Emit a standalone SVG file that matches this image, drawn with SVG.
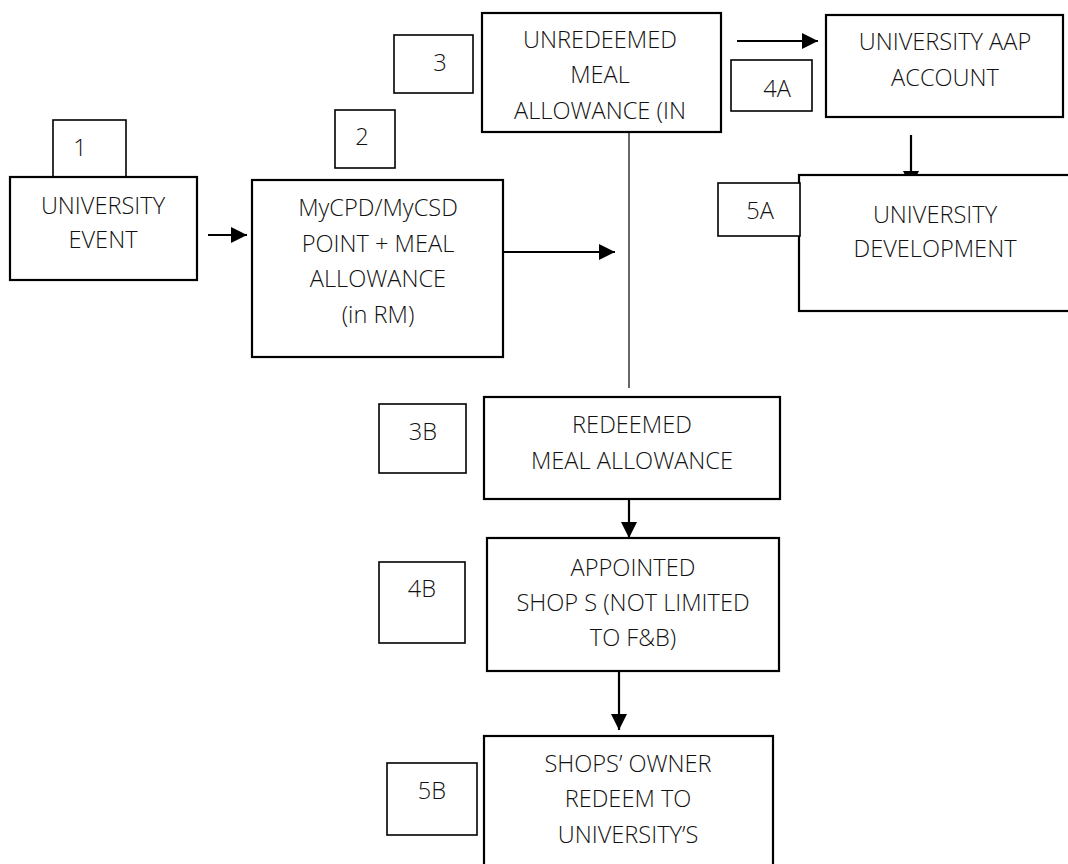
<svg xmlns="http://www.w3.org/2000/svg" width="1068" height="864" viewBox="0 0 1068 864">
<style>
  .box { fill: #fff; stroke: #000; stroke-width: 2.2; }
  .tag { fill: #fff; stroke: #000; stroke-width: 1.6; }
  .t { font-family: "Open Sans", "Liberation Sans", sans-serif; font-weight: 300; font-size: 23.6px; fill: #111; text-anchor: middle; }
  .c { stroke: #000; stroke-width: 2.2; fill: none; }
  .thin { stroke: #000; stroke-width: 1.2; fill: none; }
</style>
<defs>
  <marker id="ah" markerUnits="userSpaceOnUse" markerWidth="17" markerHeight="17" viewBox="0 0 17 17" refX="16" refY="8.5" orient="auto">
    <path d="M0,0.5 L16,8.5 L0,16.5 Z" fill="#000"/>
  </marker>
</defs>
<g id="connectors">
  <line class="c" x1="208" y1="235" x2="247" y2="235" marker-end="url(#ah)"/>
  <line class="c" x1="503" y1="252" x2="615" y2="252" marker-end="url(#ah)"/>
  <line class="thin" x1="629" y1="132" x2="629" y2="388"/>
  <line class="c" x1="737" y1="41" x2="818" y2="41" marker-end="url(#ah)"/>
  <line class="c" x1="911" y1="135" x2="911" y2="187" marker-end="url(#ah)"/>
  <line class="c" x1="629" y1="499" x2="629" y2="538" marker-end="url(#ah)"/>
  <line class="c" x1="619" y1="671" x2="619" y2="730" marker-end="url(#ah)"/>
</g>
<g id="tag1"><rect class="tag" x="53" y="120" width="73" height="57"/><text class="t" x="80" y="156">1</text></g>
<g id="node-university-event"><rect class="box" x="10" y="177" width="187" height="103"/><text class="t" x="103" y="214">UNIVERSITY</text><text class="t" x="103" y="248">EVENT</text></g>
<g id="tag2"><rect class="tag" x="335" y="110" width="60" height="58"/><text class="t" x="362" y="145">2</text></g>
<g id="node-mycpd"><rect class="box" x="252" y="180" width="251" height="177"/><text class="t" x="378" y="216">MyCPD/MyCSD</text><text class="t" x="378" y="252">POINT + MEAL</text><text class="t" x="378" y="287">ALLOWANCE</text><text class="t" x="378" y="323">(in RM)</text></g>
<g id="tag3"><rect class="tag" x="394" y="35" width="79" height="58"/><text class="t" x="440" y="71">3</text></g>
<g id="node-unredeemed"><rect class="box" x="482" y="13" width="239" height="119"/><text class="t" x="600" y="48">UNREDEEMED</text><text class="t" x="600" y="83">MEAL</text><text class="t" x="600" y="119">ALLOWANCE (IN</text></g>
<g id="tag4a"><rect class="tag" x="731" y="60" width="81" height="51"/><text class="t" x="777" y="97">4A</text></g>
<g id="node-aap"><rect class="box" x="826" y="15" width="237" height="102"/><text class="t" x="945" y="50">UNIVERSITY AAP</text><text class="t" x="945" y="86">ACCOUNT</text></g>
<g id="node-development"><rect class="box" x="799" y="175" width="280" height="136"/><text class="t" x="935" y="223">UNIVERSITY</text><text class="t" x="935" y="257">DEVELOPMENT</text></g>
<g id="tag5a"><rect class="tag" x="718" y="183" width="82" height="53"/><text class="t" x="760" y="219">5A</text></g>
<g id="tag3b"><rect class="tag" x="379" y="404" width="87" height="69"/><text class="t" x="423" y="440">3B</text></g>
<g id="node-redeemed"><rect class="box" x="484" y="397" width="296" height="102"/><text class="t" x="632" y="433">REDEEMED</text><text class="t" x="632" y="469">MEAL ALLOWANCE</text></g>
<g id="tag4b"><rect class="tag" x="379" y="562" width="86" height="81"/><text class="t" x="422" y="597">4B</text></g>
<g id="node-appointed"><rect class="box" x="487" y="538" width="292" height="133"/><text class="t" x="633" y="576">APPOINTED</text><text class="t" x="633" y="611">SHOP S (NOT LIMITED</text><text class="t" x="633" y="646">TO F&amp;B)</text></g>
<g id="tag5b"><rect class="tag" x="387" y="763" width="90" height="72"/><text class="t" x="432" y="799">5B</text></g>
<g id="node-shops-owner"><rect class="box" x="484" y="736" width="289" height="150"/><text class="t" x="628" y="772">SHOPS’ OWNER</text><text class="t" x="628" y="807">REDEEM TO</text><text class="t" x="628" y="843">UNIVERSITY’S</text></g>
</svg>
